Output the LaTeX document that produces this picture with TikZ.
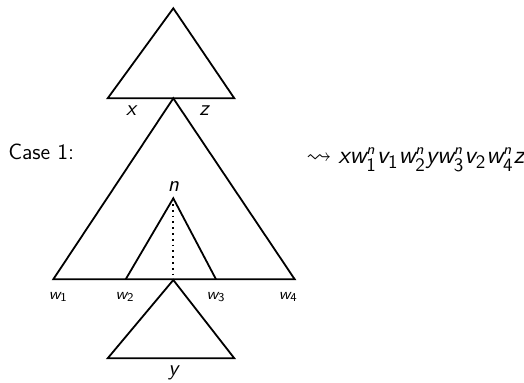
\documentclass[tikz,border=0pt]{standalone}
\usepackage{amsmath,amssymb}
\renewcommand{\familydefault}{\sfdefault}
\newcommand{\mv}[1]{\textit{#1}}
\newcommand{\sbd}[1]{\mbox{\fontsize{9.5}{10}\selectfont #1}}
\newcommand{\spn}{\mbox{\fontsize{7.5}{8}\selectfont\itshape n}}
\newcommand{\wn}[1]{\mv{w}^{\spn}_{\sbd{#1}}}
\begin{document}
\begin{tikzpicture}[x=0.5pt,y=-0.5pt,
  tri/.style={line width=0.9pt, line join=miter},
  lbl/.style={font=\fontsize{11}{13}\selectfont, inner sep=0pt},
  slbl/.style={font=\fontsize{8}{10}\selectfont, inner sep=0pt},
  elbl/.style={font=\fontsize{12.6}{14}\selectfont, inner sep=0pt}]
\useasboundingbox (0,0) rectangle (524,383);
% top triangle
\coordinate (ta) at (173.3,8.3);
\coordinate (tl) at (107.7,98.3);
\coordinate (tr) at (234.3,98.3);
\draw[tri] (ta) -- (tl) -- (tr) -- cycle;
% big triangle
\coordinate (ba) at (173.3,98.3);
\coordinate (bl) at (53.3,279.3);
\coordinate (br) at (294.7,279.3);
\draw[tri] (bl) -- (ba) -- (br) -- cycle;
% inner triangle
\coordinate (ia) at (173.3,198.3);
\coordinate (il) at (125.7,279.3);
\coordinate (ir) at (216,279.3);
\coordinate (im) at (173.3,279.3);
\draw[tri] (il) -- (ia) -- (ir);
\draw[tri,dotted] (ia) -- (im);
% bottom triangle
\coordinate (ya) at (173.3,280);
\coordinate (yl) at (107.7,358.3);
\coordinate (yr) at (234.3,358.3);
\draw[tri] (ya) -- (yl) -- (yr) -- cycle;
% labels
\node[lbl] (lx) at (131,111) {$\mv{x}$};
\node[lbl] (lz) at (204,111) {$\mv{z}$};
\node[lbl] (ln) at (173.3,187) {$\mv{n}$};
\node[lbl] (ly) at (173.3,373) {$\mv{y}$};
\node[slbl] (w1) at (58.3,297) {$\mv{w}_{\text{1}}$};
\node[slbl] (w2) at (125,297) {$\mv{w}_{\text{2}}$};
\node[slbl] (w3) at (216,297) {$\mv{w}_{\text{3}}$};
\node[slbl] (w4) at (288.3,297) {$\mv{w}_{\text{4}}$};
\node[lbl] (case) at (41.2,151.7) {Case 1:};
\node[elbl, anchor=base west] (expr) at (306,163.5)
  {$\rightsquigarrow \mv{x}\wn{1}\mv{v}_{\sbd{1}}\wn{2}\mv{y}\wn{3}\mv{v}_{\sbd{2}}\wn{4}\mv{z}$};
\end{tikzpicture}
\end{document}
